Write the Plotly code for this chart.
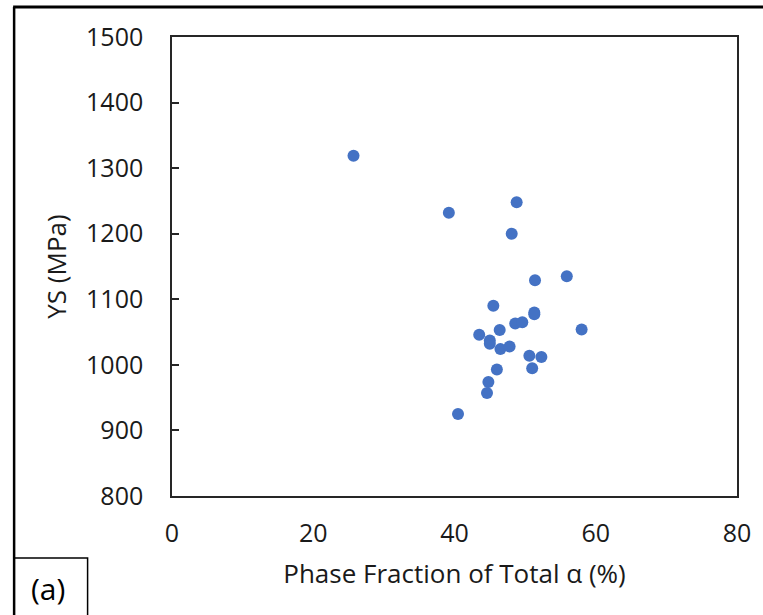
import plotly.graph_objects as go

# Data
alpha_fraction = [25.7, 39.2, 48.8, 48.1, 51.4, 55.9, 45.5, 51.3, 51.3, 48.6, 49.6,
                  58.0, 46.4, 43.5, 45.0, 45.0, 46.5, 47.8, 50.6, 52.3, 51.0, 46.0,
                  44.8, 44.6, 40.5]
ys_mpa = [1319, 1232, 1248, 1200, 1129, 1135, 1090, 1080, 1077, 1063, 1065,
          1054, 1053, 1046, 1037, 1032, 1024, 1028, 1014, 1012, 995, 993,
          974, 957, 925]
x_ticks = [0, 20, 40, 60, 80]
y_ticks = [800, 900, 1000, 1100, 1200, 1300, 1400, 1500]

W, H = 763, 615
L, R, T, B = 172, 22, 37, 119
pw, ph = W - L - R, H - T - B

def px_x(p):
    return (p - L) / pw

def px_y(p):
    return (H - B - p) / ph

FONT = "Open Sans"
fig = go.Figure()
fig.add_trace(go.Scatter(
    x=alpha_fraction, y=ys_mpa, mode="markers",
    marker=dict(color="#4472C4", size=12, line=dict(width=0)),
    showlegend=False,
))

axis_common = dict(showgrid=False, zeroline=False, showline=True, mirror=True,
                   linecolor="#262626", linewidth=1.5)
fig.update_xaxes(range=[0, 80], tickvals=x_ticks, ticks="",
                 tickfont=dict(family=FONT, size=25, color="#1a1a1a"),
                 ticklabelstandoff=14,
                 title=dict(text="Phase Fraction of Total α (%)",
                            font=dict(family=FONT, size=26, color="#1a1a1a"),
                            standoff=17),
                 **axis_common)
fig.update_yaxes(range=[800, 1500], tickvals=y_ticks, ticks="inside", ticklen=7,
                 tickcolor="#262626", tickwidth=1.5,
                 tickfont=dict(family=FONT, size=25, color="#1a1a1a"),
                 ticklabelstandoff=22,
                 title=dict(text="YS (MPa)",
                            font=dict(family=FONT, size=26, color="#1a1a1a"),
                            standoff=12),
                 **axis_common)

shapes = [
    # outer frame (left and top)
    dict(type="line", xref="paper", yref="paper", x0=px_x(13), x1=px_x(13),
         y0=px_y(620), y1=px_y(7), line=dict(color="black", width=2.5)),
    dict(type="line", xref="paper", yref="paper", x0=px_x(12), x1=px_x(770),
         y0=px_y(7), y1=px_y(7), line=dict(color="black", width=3)),
    # (a) label box
    dict(type="rect", xref="paper", yref="paper", x0=px_x(13), x1=px_x(87),
         y0=px_y(620), y1=px_y(558), line=dict(color="black", width=1.5)),
]
fig.update_layout(
    width=W, height=H,
    margin=dict(l=L, r=R, t=T, b=B),
    paper_bgcolor="white", plot_bgcolor="white",
    shapes=shapes,
    annotations=[dict(text="(a)", xref="paper", yref="paper", x=px_x(47), y=px_y(588),
                      showarrow=False, xanchor="center", yanchor="middle",
                      font=dict(family=FONT, size=30, color="black"))],
)
fig.write_html("out.html")
